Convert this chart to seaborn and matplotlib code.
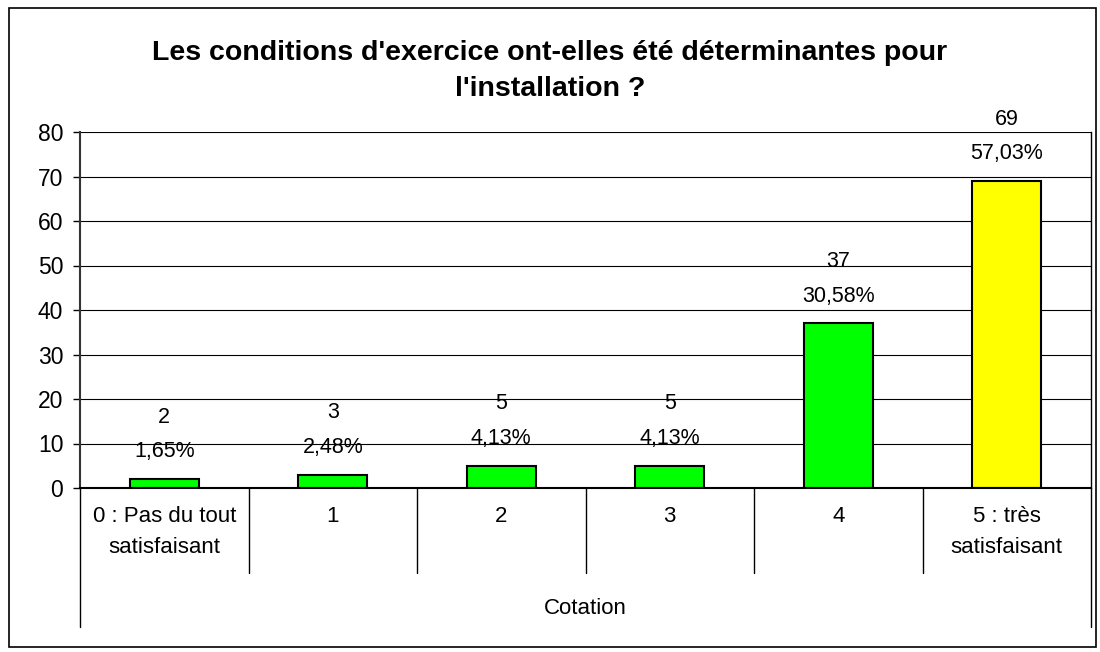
import matplotlib
matplotlib.use("Agg")
import matplotlib.pyplot as plt
import matplotlib.transforms as mtransforms
from matplotlib.patches import Rectangle
import seaborn as sns
import pandas as pd

categories = ["0 : Pas du tout\nsatisfaisant", "1", "2", "3", "4", "5 : très\nsatisfaisant"]
values = [2, 3, 5, 5, 37, 69]
percents = ["1,65%", "2,48%", "4,13%", "4,13%", "30,58%", "57,03%"]
bar_colors = ["#00FF00", "#00FF00", "#00FF00", "#00FF00", "#00FF00", "#FFFF00"]
title = "Les conditions d'exercice ont-elles été déterminantes pour\nl'installation ?"
axis_label = "Cotation"
yticks = [0, 10, 20, 30, 40, 50, 60, 70, 80]

sns.set_theme(style="white")
plt.rcParams["font.family"] = ["Liberation Sans", "DejaVu Sans"]
plt.rcParams["text.color"] = "black"
plt.rcParams["xtick.color"] = "black"
plt.rcParams["ytick.color"] = "black"
plt.rcParams["axes.labelcolor"] = "black"

df = pd.DataFrame({"cat": categories, "val": values})

fig = plt.figure(figsize=(11, 6.52), dpi=100)
ax = fig.add_axes([80/1100, 1-488/652, (1091-80)/1100, (488-132)/652])

sns.barplot(data=df, x="cat", y="val", hue="cat", palette=bar_colors, legend=False,
            edgecolor="black", linewidth=1.5, width=0.41, saturation=1, ax=ax)

ax.set_ylim(0, 80)
ax.set_xlim(-0.5, len(categories) - 0.5)
ax.set_yticks(yticks)
ax.set_yticklabels([str(t) for t in yticks], fontsize=16.5)
ax.set_xticks([])
ax.set_xlabel("")
ax.set_ylabel("")
ax.yaxis.grid(True, color="#000000", linewidth=0.8)
ax.set_axisbelow(True)
ax.tick_params(axis="y", which="major", direction="out", length=5, width=1, color="black", pad=7, left=True)
for s in ["left", "bottom", "right", "top"]:
    ax.spines[s].set_visible(True)
    ax.spines[s].set_color("black")
    ax.spines[s].set_linewidth(1)
ax.spines["left"].set_color("#333333")
ax.spines["left"].set_linewidth(1.5)
ax.spines["bottom"].set_linewidth(1.5)
ax.spines["top"].set_visible(False)

# value labels
for i, (v, p) in enumerate(zip(values, percents)):
    ax.annotate(f"{v}\n{p}", xy=(i, v), xytext=(0, 12), textcoords="offset points",
                ha="center", va="bottom", fontsize=15.5, linespacing=1.85, color="black")

# category table below axis
trans = mtransforms.blended_transform_factory(ax.transData, ax.transAxes)
h = 356.0
inner_bottom = -(573 - 488) / h
outer_bottom = -(627 - 488) / h
n = len(categories)
for k in range(1, n):
    ax.plot([k - 0.5, k - 0.5], [0, inner_bottom], transform=trans, color="black",
            linewidth=1, clip_on=False)
for xb in [-0.5, n - 0.5]:
    ax.plot([xb, xb], [0, outer_bottom], transform=trans, color="black",
            linewidth=1, clip_on=False)
for i, c in enumerate(categories):
    ax.text(i, -(506 - 488) / h, c, transform=trans, ha="center", va="top",
            fontsize=16, linespacing=1.6)
ax.text((n - 1) / 2, -(609 - 488) / h, axis_label, transform=trans, ha="center",
        va="center", fontsize=16)

fig.text(550/1100, 1 - 71/652, title, ha="center", va="center", fontsize=20.5,
         fontweight="bold", linespacing=1.55)

fig.patches.append(Rectangle((9/1100, 1 - 647/652), (1096 - 9)/1100, (647 - 8)/652,
                             transform=fig.transFigure, fill=False, edgecolor="black",
                             linewidth=1.2))

fig.savefig("out.png", dpi=100, facecolor="white")
